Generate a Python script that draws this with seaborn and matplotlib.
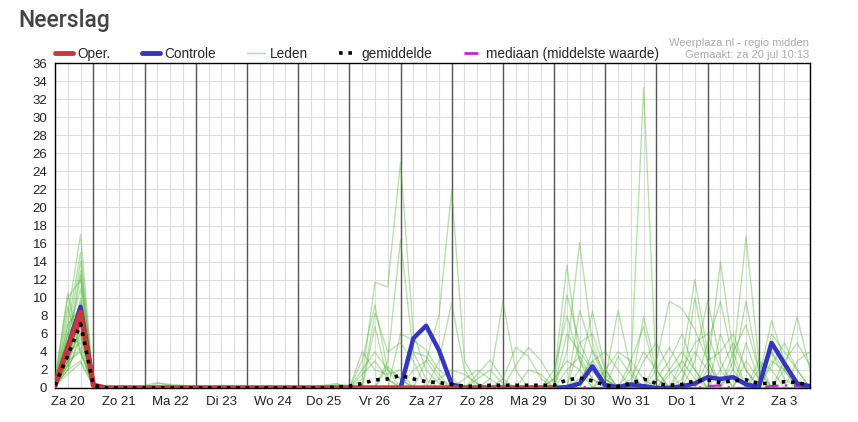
import matplotlib
matplotlib.use("Agg")
import matplotlib.pyplot as plt
import seaborn as sns
import pandas as pd
from matplotlib.lines import Line2D

# ---------------- data (6-hourly, hours after Za 20 00:00) ----------------
hours = list(range(6, 361, 6))
day_labels = ["Za 20", "Zo 21", "Ma 22", "Di 23", "Wo 24", "Do 25", "Vr 26",
              "Za 27", "Zo 28", "Ma 29", "Di 30", "Wo 31", "Do 1", "Vr 2", "Za 3"]
y_ticks = list(range(0, 37, 2))

# Operational run (ends at Di 30 00:00)
oper_hours = list(range(6, 241, 6))
oper_nonzero = {6: 0.3, 12: 4.4, 18: 8.4, 24: 0.3}

# Control run
control_nonzero = {6: 0.2, 12: 4.6, 18: 9.0, 24: 0.3,
                   174: 5.5, 180: 6.9, 186: 4.2, 192: 0.4,
                   246: 0.1, 252: 0.5, 258: 2.4, 264: 0.3, 270: 0.1, 276: 0.4, 282: 0.2,
                   300: 0.2, 306: 0.5, 312: 1.2, 318: 1.0, 324: 1.2, 330: 0.4, 336: 0.1,
                   342: 5.0, 348: 2.7, 354: 0.5, 360: 0.2}

# Ensemble mean (gemiddelde)
mean_nonzero = {6: 0.3, 12: 3.6, 18: 7.1, 24: 0.3,
                138: 0.1, 144: 0.2, 150: 0.5, 156: 0.9, 162: 1.0, 168: 1.4, 174: 1.0,
                180: 0.7, 186: 0.6, 192: 0.4, 198: 0.2, 204: 0.2, 210: 0.3, 216: 0.3,
                222: 0.3, 228: 0.3, 234: 0.3, 240: 0.3, 246: 0.9, 252: 1.1, 258: 0.8,
                264: 0.3, 270: 0.2, 276: 0.5, 282: 1.0, 288: 0.5, 294: 0.3, 300: 0.4,
                306: 0.8, 312: 0.9, 318: 0.6, 324: 0.8, 330: 0.9, 336: 0.5, 342: 0.5,
                348: 0.7, 354: 0.6, 360: 0.3}

# Ensemble median (mediaan)
median_nonzero = {6: 0.2, 12: 3.4, 18: 7.4, 24: 0.2,
                  252: 0.2, 312: 0.2, 318: 0.3, 342: 0.2, 348: 0.3, 354: 0.2}

# Ensemble members (Leden): non-zero 6-hourly values
members = [
    {6: 0.5, 12: 8, 18: 17, 24: 0.3, 150: 1, 156: 11.7, 162: 11.2, 168: 25, 174: 6, 180: 2, 186: 0.5,
     324: 2, 330: 9.6, 336: 2},
    {6: 0.3, 12: 7, 18: 15, 24: 0.5, 162: 3, 168: 16.4, 174: 4, 180: 1, 336: 1, 342: 7.5, 348: 3},
    {6: 0.8, 12: 10.5, 18: 4, 24: 0.2, 150: 3, 156: 9.2, 162: 2, 168: 1, 348: 2, 354: 7.9, 360: 2},
    {6: 1, 12: 10, 18: 12, 24: 0.4, 156: 8.3, 162: 4, 168: 5, 174: 3, 342: 4, 348: 1},
    {6: 0.2, 12: 6, 18: 14, 24: 0.3, 54: 0.5, 60: 0.4, 66: 0.3, 180: 3, 186: 8, 192: 21.9, 198: 3,
     204: 0.5, 348: 3, 354: 5, 360: 2.5},
    {6: 0.5, 12: 5, 18: 13, 24: 0.6, 168: 6, 174: 5.3, 180: 4.2, 186: 2, 192: 1,
     246: 6, 252: 4, 258: 2, 294: 2, 300: 4, 306: 2},
    {6: 0.3, 12: 4, 18: 12.5, 24: 0.2, 174: 4, 180: 3.5, 186: 1.5, 252: 5, 258: 6, 264: 2,
     306: 10, 312: 3},
    {6: 0.4, 12: 6, 18: 11, 24: 0.3, 132: 0.3, 138: 0.5, 150: 4, 156: 2, 162: 1.5, 168: 2,
     240: 1, 246: 3, 252: 2, 270: 3.5, 276: 1.5, 318: 6, 324: 2},
    {6: 0.2, 12: 3, 18: 10, 24: 0.2, 156: 6.8, 162: 1, 276: 3, 282: 6.8, 288: 1, 330: 5, 336: 1},
    {6: 0.6, 12: 5, 18: 9.5, 24: 0.4, 162: 2.4, 168: 1, 258: 3, 264: 4, 270: 2,
     312: 5, 318: 9.6, 324: 3},
    {6: 0.3, 12: 4, 18: 9, 24: 0.3, 186: 3, 192: 9.4, 198: 2, 246: 2, 252: 3.5, 258: 1,
     300: 2, 306: 5, 312: 6, 318: 2},
    {6: 0.4, 12: 3.5, 18: 8.5, 24: 0.2, 48: 0.3, 54: 0.6, 60: 0.3, 210: 1, 216: 9.6, 222: 2,
     288: 1, 294: 3, 300: 6, 306: 2, 342: 3, 348: 2},
    {6: 0.2, 12: 3, 18: 8, 24: 0.3, 204: 1.5, 210: 3.1, 216: 1, 240: 2, 246: 8, 252: 3,
     324: 4, 330: 7, 336: 2},
    {6: 0.5, 12: 4, 18: 7.5, 24: 0.5, 198: 1, 204: 2, 210: 1, 264: 2, 270: 4, 276: 3, 282: 1,
     336: 2, 342: 4, 348: 2},
    {6: 0.3, 12: 2.5, 18: 7, 24: 0.2, 138: 0.4, 144: 0.3, 216: 1, 222: 4.5, 228: 3.5, 234: 1,
     282: 3, 288: 5, 294: 2, 354: 3, 360: 4},
    {6: 0.2, 12: 3, 18: 6.5, 24: 0.3, 222: 2.5, 228: 4.5, 234: 3, 240: 0.5, 252: 1, 258: 3,
     264: 1, 312: 3, 318: 4, 324: 6, 330: 2},
    {6: 0.4, 12: 3.5, 18: 6, 24: 0.2, 246: 4, 252: 16.1, 258: 5, 264: 1, 300: 1, 306: 4, 312: 2,
     342: 2.5, 348: 5, 354: 2},
    {6: 0.3, 12: 2, 18: 5.5, 24: 0.4, 240: 1, 246: 13.6, 252: 3, 258: 1, 276: 1, 282: 4, 288: 2,
     330: 3, 336: 1},
    {6: 0.2, 12: 4, 18: 5, 24: 0.2, 246: 10.3, 252: 5, 258: 2, 294: 1.5, 300: 3, 306: 1},
    {6: 0.5, 12: 9, 18: 3.8, 24: 0.3, 252: 8.6, 258: 4, 264: 1, 318: 2, 324: 5, 330: 2},
    {6: 0.3, 12: 2.5, 18: 4.5, 24: 0.2, 252: 2, 258: 8.5, 264: 2, 342: 6, 348: 4, 354: 2},
    {6: 0.2, 12: 2, 18: 3, 24: 0.3, 258: 4.2, 264: 1.5, 336: 3, 342: 2},
    {6: 0.3, 12: 1.5, 18: 2.8, 24: 0.2, 264: 1, 270: 8.6, 276: 2, 288: 2, 294: 4.5, 300: 2},
    {6: 0.4, 12: 5, 18: 7, 24: 0.3, 276: 2, 282: 33.3, 288: 1},
    {6: 0.2, 12: 6, 18: 8, 24: 0.4, 150: 2, 156: 4, 162: 2, 282: 7.9, 288: 2},
    {6: 0.3, 12: 2.5, 18: 9, 24: 0.2, 174: 2, 180: 3, 186: 1, 288: 3, 294: 9.6, 300: 8.8,
     306: 6.5, 312: 3},
    {6: 0.6, 12: 7, 18: 9, 24: 0.5, 204: 1, 210: 2, 216: 0.5, 300: 3, 306: 12, 312: 4},
    {6: 0.2, 12: 3, 18: 4, 24: 0.3, 228: 2, 234: 1.5, 306: 3, 312: 9.7, 318: 3},
    {6: 0.4, 12: 4.5, 18: 8, 24: 0.3, 150: 1.5, 156: 3, 162: 1, 312: 2, 318: 14, 324: 4},
    {6: 0.3, 12: 2, 18: 6, 24: 0.2, 186: 1, 192: 2, 198: 1.5, 204: 0.5, 324: 3, 330: 16.8, 336: 3},
]

# ---------------- tables ----------------
rows = []
for k, m in enumerate(members):
    for h in hours:
        rows.append({"member": k, "hour": h, "value": m.get(h, 0.0)})
df_members = pd.DataFrame(rows)
df_oper = pd.DataFrame({"hour": oper_hours, "value": [oper_nonzero.get(h, 0.0) for h in oper_hours]})
df_ctrl = pd.DataFrame({"hour": hours, "value": [control_nonzero.get(h, 0.0) for h in hours]})
df_mean = pd.DataFrame({"hour": hours, "value": [mean_nonzero.get(h, 0.0) for h in hours]})
df_med = pd.DataFrame({"hour": hours, "value": [median_nonzero.get(h, 0.0) for h in hours]})

# ---------------- plot ----------------
sns.set_style("white")
plt.rcParams["font.family"] = ["Liberation Sans", "DejaVu Sans"]

fig = plt.figure(figsize=(8.58, 4.22), dpi=100)
ax = fig.add_axes([55 / 858, 1 - 388 / 422, 755 / 858, 325 / 422])

GREEN = "#48b02a"
RED = "#c8373a"
BLUE = "#3535c0"
MAG = "#cc22cc"

sns.lineplot(data=df_members, x="hour", y="value", units="member", estimator=None,
             color=GREEN, alpha=0.38, lw=1.0, ax=ax, legend=False, zorder=3)
sns.lineplot(data=df_ctrl, x="hour", y="value", color=BLUE, lw=3.2, ax=ax, zorder=5)
sns.lineplot(data=df_oper, x="hour", y="value", color=RED, lw=3.8, ax=ax, zorder=6)
sns.lineplot(data=df_mean, x="hour", y="value", color="black", lw=2.6, ax=ax, zorder=7,
             linestyle=(0, (1, 1.6)))
sns.lineplot(data=df_med, x="hour", y="value", color=MAG, lw=1.6, ax=ax, zorder=4,
             linestyle=(0, (6, 3, 1, 3)))

ax.set_xlim(6, 360)
ax.set_ylim(0, 36)
ax.set_xlabel("")
ax.set_ylabel("")

ax.set_yticks(y_ticks)
ax.set_yticklabels([str(v) for v in y_ticks])
ax.set_xticks(hours)
lab_map = {24 * d + 12: day_labels[d] for d in range(len(day_labels))}
ax.set_xticklabels([lab_map.get(h, "") for h in hours])

ax.grid(True, color="#dcdcdc", lw=0.8, zorder=0)
for d in range(1, 15):
    ax.axvline(24 * d, color="#555555", lw=1.0, zorder=1)

for s in ax.spines.values():
    s.set_color("black")
    s.set_linewidth(1.0)
    s.set_visible(True)

ax.tick_params(axis="both", which="major", direction="out", length=4, width=0.8,
               color="#333333", labelsize=9.5, labelcolor="#222222", pad=1.5)
ax.tick_params(axis="x", length=4, pad=2)

# Title and credits
fig.text(18 / 858, 1 - 20 / 422, "Neerslag", fontsize=16.5, color="#444444",
         ha="left", va="center", family=["Roboto", "DejaVu Sans"], fontweight="medium")
fig.text(809 / 858, 1 - 43 / 422, "Weerplaza.nl - regio midden", fontsize=8, color="#aaaaaa",
         ha="right", va="center")
fig.text(809 / 858, 1 - 55 / 422, "Gemaakt: za 20 jul 10:13", fontsize=8, color="#aaaaaa",
         ha="right", va="center")

# Legend
handles = [
    Line2D([], [], color=RED, lw=3.5),
    Line2D([], [], color=BLUE, lw=3.5),
    Line2D([], [], color=GREEN, lw=1.0, alpha=0.45),
    Line2D([], [], color="black", lw=2.6, linestyle=(0, (1, 1.6))),
    Line2D([], [], color=MAG, lw=2.0, linestyle=(0, (5, 3, 1, 3))),
]
labels = ["Oper.", "Controle", "Leden", "gemiddelde", "mediaan (middelste waarde)"]
fig.legend(handles, labels, loc="center left", bbox_to_anchor=(55 / 858, 1 - 54 / 422),
           ncol=5, frameon=False, fontsize=9.8, handlelength=1.3, handletextpad=0.35,
           columnspacing=2.3, borderpad=0, borderaxespad=0)

fig.savefig("out.png", dpi=100, facecolor="white")
